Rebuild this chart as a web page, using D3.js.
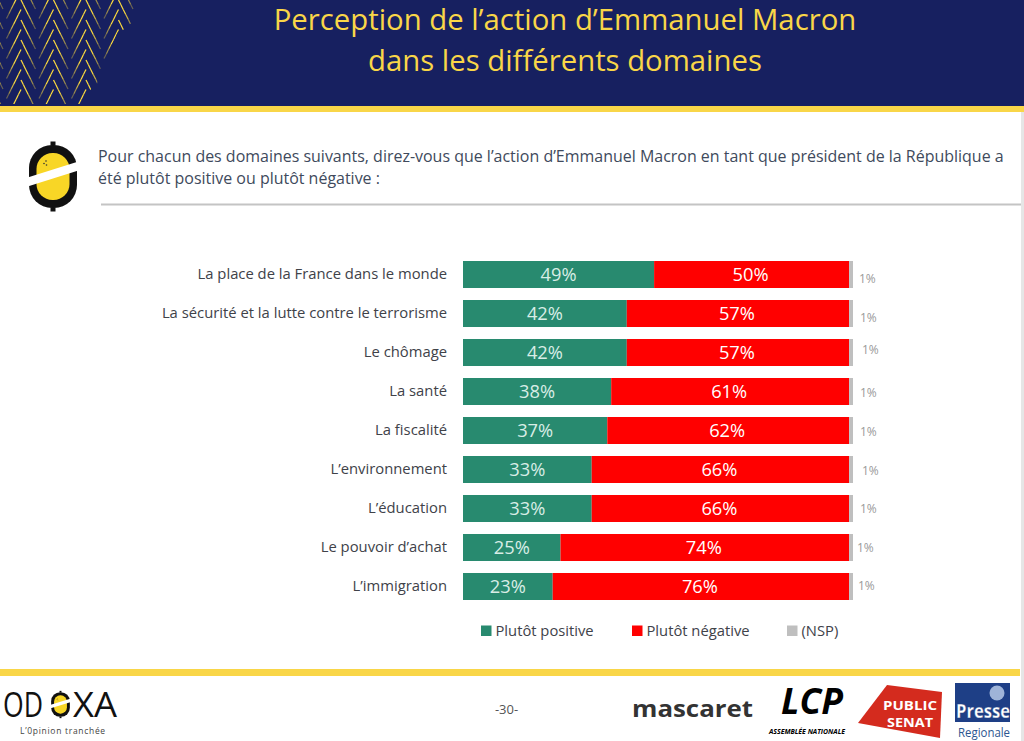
<!DOCTYPE html>
<html lang="fr"><head><meta charset="utf-8">
<script src="https://cdn.jsdelivr.net/npm/d3@7"></script>
<style>html,body{margin:0;padding:0;background:#fff}svg{display:block}text{font-family:"Open Sans","Noto Sans",sans-serif}</style>
</head><body><div id="c"></div>
<script>
const categories=["La place de la France dans le monde","La sécurité et la lutte contre le terrorisme","Le chômage","La santé","La fiscalité","L’environnement","L’éducation","Le pouvoir d’achat","L’immigration"];
const positive=[49,42,42,38,37,33,33,25,23];
const negative=[50,57,57,61,62,66,66,74,76];
const nsp=[1,1,1,1,1,1,1,1,1];
const seriesNames=["Plutôt positive","Plutôt négative","(NSP)"];
const titleLines=["Perception de l’action d’Emmanuel Macron","dans les différents domaines"];
const questionLines=["Pour chacun des domaines suivants, direz-vous que l’action d’Emmanuel Macron en tant que président de la République a","été plutôt positive ou plutôt négative :"];

const W=1024,H=741,NAVY="#172060",YEL="#F9D648",GREEN="#288A6F",RED="#FF0000",GREY="#BFBFBF",TXT="#404A5C",LBL="#404249";
const svg=d3.select("#c").append("svg").attr("width",W).attr("height",H);
svg.append("rect").attr("width",W).attr("height",H).attr("fill","#fff");
// header
svg.append("rect").attr("width",W).attr("height",106).attr("fill",NAVY);
svg.append("rect").attr("y",106).attr("width",W).attr("height",6).attr("fill",YEL);
// chevron decoration: strokes bright at the apex, fading outwards
svg.append("clipPath").attr("id","hc").append("polygon").attr("points","0,0 135,0 135,20 123,30 118,32 104,62 100,70 97,84 88,92 88,104 0,104");
const chev=svg.append("g").attr("clip-path","url(#hc)").attr("stroke","#FFDC3C").attr("stroke-width",1.2).attr("fill","none");
function fade(x0,y0,sx){
  const steps=6,dx=14.5,dy=29;
  for(let i=0;i<steps;i++){
    chev.append("line").attr("opacity",i<3?1:1-(i-2)/4*.85)
      .attr("x1",x0+sx*dx*i/steps).attr("y1",y0+dy*i/steps)
      .attr("x2",x0+sx*dx*(i+1)/steps).attr("y2",y0+dy*(i+1)/steps);
  }
}
[-11.5,21,53.5,86,118.5].forEach(cx=>{
  [-20,0,20,40,60,80].forEach(y0=>{fade(cx,y0,1);fade(cx,y0+9.5,-1);});
});
titleLines.forEach((t,i)=>svg.append("text").attr("x",565).attr("y",[30,71][i]).attr("text-anchor","middle").attr("font-size",29.3).attr("fill",YEL).text(t));
// question
questionLines.forEach((t,i)=>svg.append("text").attr("x",98).attr("y",[161.5,183.5][i]).attr("font-size",15.98).attr("fill",TXT).text(t));
svg.append("rect").attr("x",101).attr("y",203.5).attr("width",920).attr("height",2).attr("fill","#c4c4c4");
// odoxa mark
function mark(g,s){
  g.append("rect").attr("x",-24*s).attr("y",-31.5*s).attr("width",48*s).attr("height",63*s).attr("rx",23*s).attr("fill","#111");
  g.append("rect").attr("x",-16.5*s).attr("y",-23.5*s).attr("width",33*s).attr("height",47*s).attr("rx",16*s).attr("fill","#F8D626");
  g.append("path").attr("d",`M${-27*s},${1.5*s}L${27*s},${-15.5*s}L${27*s},${-6.5*s}L${-27*s},${10.5*s}Z`).attr("fill","#fff");
  g.append("rect").attr("x",-2.5*s).attr("y",-35*s).attr("width",5*s).attr("height",4*s).attr("fill","#111");
  g.append("rect").attr("x",-2.5*s).attr("y",31*s).attr("width",5*s).attr("height",4*s).attr("fill","#111");
  [[-9,-13],[-7,-15.5],[-6.5,-11.5]].forEach(([a,b])=>g.append("circle").attr("cx",a*s).attr("cy",b*s).attr("r",.8*s).attr("fill","#333"));
}
mark(svg.append("g").attr("transform","translate(53,176.5)"),1);
// chart
const x=d3.scaleLinear().domain([0,100]).range([463,853]);
const y=d3.scaleBand().domain(categories).range([255,606]).paddingInner(.3077).paddingOuter(.154);
const rows=svg.append("g").selectAll("g").data(categories).join("g");
const cols=[GREEN,RED,GREY];
rows.each(function(c,i){
  const g=d3.select(this);let acc=0;
  [positive[i],negative[i],nsp[i]].forEach((v,k)=>{
    g.append("rect").attr("x",x(acc)).attr("y",y(c)).attr("width",x(acc+v)-x(acc)).attr("height",y.bandwidth()).attr("fill",cols[k]);
    acc+=v;
  });
  const cy=y(c)+y.bandwidth()/2;
  g.append("text").attr("x",447).attr("y",cy+4.5).attr("text-anchor","end").attr("font-size",14.8).attr("fill",LBL).text(c);
  g.append("text").attr("x",x(positive[i]/2)).attr("y",cy+6.5).attr("text-anchor","middle").attr("font-size",18.3).attr("fill","#D8EDE6").text(positive[i]+"%");
  g.append("text").attr("x",x(positive[i]+negative[i]/2)-1).attr("y",cy+6.5).attr("text-anchor","middle").attr("font-size",18.3).attr("fill","#fff").text(negative[i]+"%");
  const nudgeX=[859,860,862,860,860,862,860,857,858][i],nudgeY=[8,8,1,5,5,6,5,5,4][i];
  g.append("text").attr("x",nudgeX).attr("y",cy+nudgeY).attr("font-size",12).attr("fill","#9a9a9a").text(nsp[i]+"%");
});
// legend
const lx=[481,632,787];
seriesNames.forEach((n,i)=>{
  svg.append("rect").attr("x",lx[i]).attr("y",625.5).attr("width",10.5).attr("height",10.5).attr("fill",cols[i]);
  svg.append("text").attr("x",lx[i]+14.5).attr("y",636).attr("font-size",14.75).attr("fill",LBL).text(n);
});
// footer
svg.append("rect").attr("y",669).attr("width",1020).attr("height",7).attr("fill",YEL);
svg.append("text").attr("x",506.5).attr("y",714).attr("text-anchor","middle").attr("font-size",13).attr("fill","#555").text("-30-");
// ODOXA logo
[["OD",3,40],["XA",73,44]].forEach(([t,lxx,w])=>{
  svg.append("text").attr("x",lxx).attr("y",717).attr("font-size",34).attr("font-family","Inter").attr("font-weight",500)
    .attr("textLength",w).attr("lengthAdjust","spacingAndGlyphs").attr("fill","#111").text(t);
});
mark(svg.append("g").attr("transform","translate(60.5,704.5)"),.39);
svg.append("text").attr("x",20).attr("y",734).attr("font-size",8.5).attr("letter-spacing",.7).attr("fill","#444").text("L’0pinion tranchée");
// mascaret
svg.append("text").attr("x",632).attr("y",717).attr("font-size",24).attr("font-family","Inter").attr("font-weight",700).attr("textLength",121).attr("lengthAdjust","spacingAndGlyphs").attr("fill","#333").text("mascaret");
// LCP
svg.append("text").attr("x",781).attr("y",714).attr("font-size",35).attr("font-family","Liberation Sans").attr("font-weight",700).attr("font-style","italic").attr("textLength",62).attr("lengthAdjust","spacingAndGlyphs").attr("fill","#000").text("LCP");
svg.append("text").attr("x",769).attr("y",734).attr("font-size",7.8).attr("font-family","Liberation Sans").attr("font-weight",700).attr("font-style","italic").attr("textLength",76).attr("lengthAdjust","spacingAndGlyphs").attr("fill","#000").text("ASSEMBLÉE NATIONALE");
// Public Senat
svg.append("path").attr("d","M858,723L887,685L942,692L940,738Z").attr("fill","#D42B1E");
svg.append("text").attr("x",883).attr("y",709.5).attr("font-size",13).attr("font-family","Liberation Sans").attr("font-weight",700).attr("textLength",54).attr("lengthAdjust","spacingAndGlyphs").attr("fill","#fff").text("PUBLIC");
svg.append("text").attr("x",887).attr("y",727).attr("font-size",13).attr("font-family","Liberation Sans").attr("font-weight",700).attr("textLength",46).attr("lengthAdjust","spacingAndGlyphs").attr("fill","#fff").text("SENAT");
// Presse regionale
svg.append("rect").attr("x",955).attr("y",683).attr("width",55).attr("height",39).attr("fill","#1E3F86");
svg.append("circle").attr("cx",997).attr("cy",693).attr("r",7.5).attr("fill","#9FB4D8");
svg.append("text").attr("x",956).attr("y",718).attr("font-size",20).attr("font-family","Liberation Sans").attr("font-weight",700).attr("textLength",54).attr("lengthAdjust","spacingAndGlyphs").attr("fill","#fff").attr("stroke","#1E3F86").attr("stroke-width",.3).text("Presse");
svg.append("text").attr("x",958).attr("y",737).attr("font-size",12).attr("font-family","Liberation Sans").attr("font-weight",400).attr("textLength",52).attr("lengthAdjust","spacingAndGlyphs").attr("fill","#2C5590").text("Regionale");
// page edge
svg.append("rect").attr("x",1021).attr("y",112).attr("width",3).attr("height",629).attr("fill","#e6e6e6");
</script></body></html>
